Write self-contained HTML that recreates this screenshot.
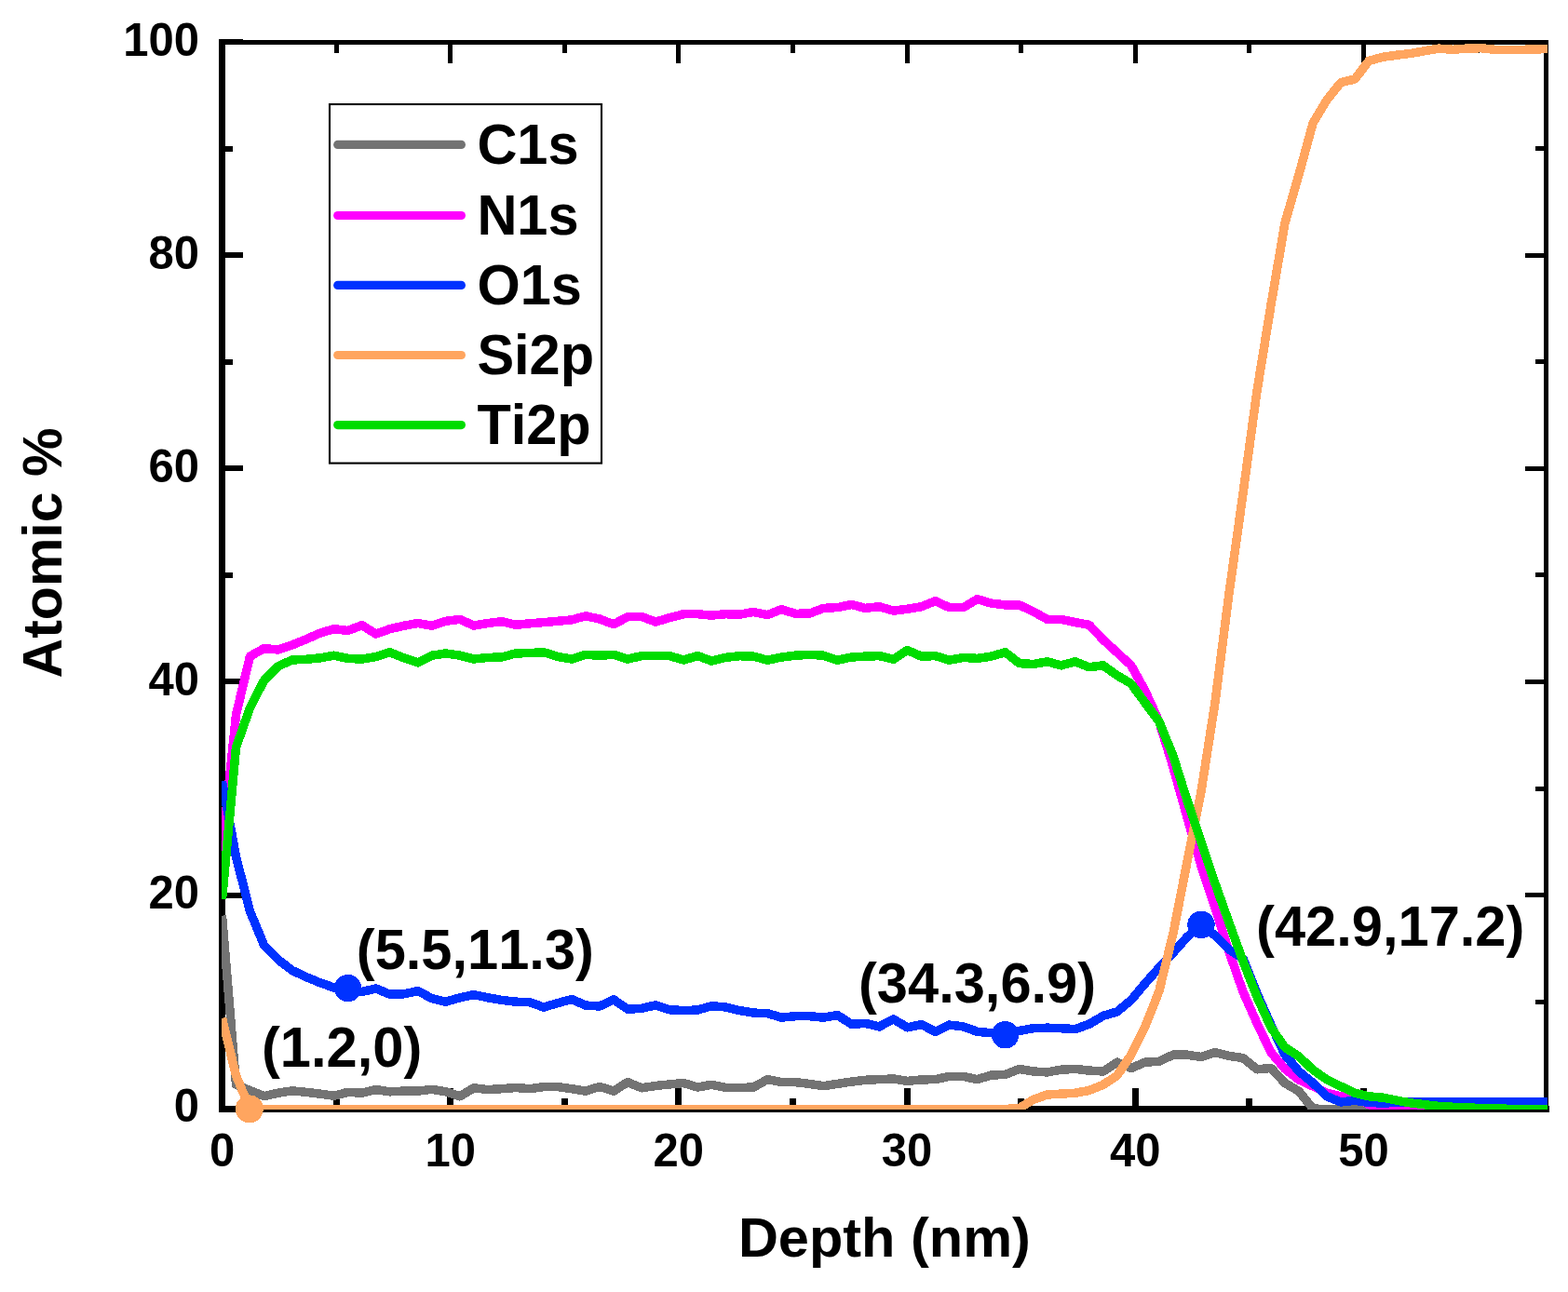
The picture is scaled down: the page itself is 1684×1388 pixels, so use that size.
<!DOCTYPE html>
<html lang="en"><head><meta charset="utf-8"><title>XPS depth profile</title>
<style>html,body{margin:0;padding:0;background:#fff}svg{display:block}text{font-family:"Liberation Sans",Arial,Helvetica,sans-serif;font-weight:bold;fill:#000;font-kerning:none;font-variant-ligatures:none}.tk{font-size:49px}.ti{font-size:59.5px}.lg{font-size:59.5px}.an{font-size:59.6px}</style></head><body>
<svg width="1684" height="1388" viewBox="0 0 1684 1388">
<rect width="1684" height="1388" fill="#fff"/>
<defs><clipPath id="plot"><rect x="238" y="43" width="1424" height="1149.1"/></clipPath></defs>
<g fill="#000" shape-rendering="crispEdges">
<rect x="235" y="43" width="7" height="1152"/>
<rect x="235" y="1188" width="1429" height="7"/>
<rect x="235" y="43" width="1428" height="5"/>
<rect x="1658" y="43" width="5" height="1152"/>
<rect x="235" y="1169" width="7" height="20"/>
<rect x="236" y="47" width="5" height="21"/>
<rect x="358" y="1180" width="7" height="9"/>
<rect x="359" y="47" width="5" height="10"/>
<rect x="480" y="1169" width="7" height="20"/>
<rect x="481" y="47" width="5" height="21"/>
<rect x="603" y="1180" width="7" height="9"/>
<rect x="604" y="47" width="5" height="10"/>
<rect x="725" y="1169" width="7" height="20"/>
<rect x="726" y="47" width="5" height="21"/>
<rect x="848" y="1180" width="7" height="9"/>
<rect x="849" y="47" width="5" height="10"/>
<rect x="971" y="1169" width="7" height="20"/>
<rect x="972" y="47" width="5" height="21"/>
<rect x="1093" y="1180" width="7" height="9"/>
<rect x="1094" y="47" width="5" height="10"/>
<rect x="1216" y="1169" width="7" height="20"/>
<rect x="1217" y="47" width="5" height="21"/>
<rect x="1338" y="1180" width="7" height="9"/>
<rect x="1339" y="47" width="5" height="10"/>
<rect x="1461" y="1169" width="7" height="20"/>
<rect x="1462" y="47" width="5" height="21"/>
<rect x="1583" y="1180" width="7" height="9"/>
<rect x="1584" y="47" width="5" height="10"/>
<rect x="241" y="1188" width="20" height="6"/>
<rect x="241" y="1073" width="9" height="6"/>
<rect x="1649" y="1074" width="10" height="5"/>
<rect x="241" y="959" width="20" height="6"/>
<rect x="1638" y="959" width="21" height="5"/>
<rect x="241" y="844" width="9" height="6"/>
<rect x="1649" y="845" width="10" height="5"/>
<rect x="241" y="729" width="20" height="6"/>
<rect x="1638" y="730" width="21" height="5"/>
<rect x="241" y="615" width="9" height="6"/>
<rect x="1649" y="615" width="10" height="5"/>
<rect x="241" y="500" width="20" height="6"/>
<rect x="1638" y="501" width="21" height="5"/>
<rect x="241" y="386" width="9" height="6"/>
<rect x="1649" y="386" width="10" height="5"/>
<rect x="241" y="271" width="20" height="6"/>
<rect x="1638" y="272" width="21" height="5"/>
<rect x="241" y="157" width="9" height="6"/>
<rect x="1649" y="157" width="10" height="5"/>
<rect x="235" y="42" width="26" height="6"/>
</g>
<g fill="none" stroke-width="9.5" stroke-linejoin="round" stroke-linecap="butt" clip-path="url(#plot)" shape-rendering="crispEdges">
<path stroke="#737373" d="M238.5 983.6L253.5 1165.0L268.5 1171.6L283.6 1177.6L298.6 1174.2L313.6 1171.9L328.6 1173.3L343.6 1175.1L358.7 1177.2L373.7 1173.3L388.7 1174.2L403.7 1170.6L418.7 1172.8L433.8 1172.1L448.8 1172.1L463.8 1170.3L478.8 1172.8L493.8 1177.8L508.9 1168.8L523.9 1170.6L538.9 1169.7L553.9 1168.5L568.9 1169.7L584.0 1167.6L599.0 1167.6L614.0 1169.7L629.0 1172.1L644.0 1167.4L659.1 1172.1L674.1 1162.6L689.1 1168.8L704.1 1166.5L719.1 1164.9L734.2 1163.5L749.2 1168.0L764.2 1165.3L779.2 1168.3L794.2 1168.5L809.3 1168.0L824.3 1159.6L839.3 1162.6L854.3 1162.6L869.3 1164.4L884.4 1166.7L899.4 1164.4L914.4 1162.1L929.4 1160.3L944.4 1159.6L959.5 1159.0L974.5 1161.4L989.5 1159.9L1004.5 1159.6L1019.5 1156.4L1034.6 1156.4L1049.6 1159.6L1064.6 1155.0L1079.6 1154.5L1094.6 1148.4L1109.7 1151.0L1124.7 1151.9L1139.7 1149.2L1154.7 1148.4L1169.7 1150.1L1184.8 1151.0L1199.8 1141.2L1214.8 1147.5L1229.8 1141.2L1244.8 1140.3L1259.9 1133.2L1274.9 1133.2L1289.9 1135.5L1304.9 1130.5L1319.9 1134.4L1335.0 1136.6L1350.0 1148.8L1365.0 1147.5L1380.0 1163.5L1395.0 1172.4L1410.1 1191.1L1425.1 1191.5L1440.1 1191.5L1455.1 1191.5L1470.1 1191.5L1485.2 1191.5L1500.2 1191.5L1515.2 1191.5L1530.2 1191.5L1545.2 1191.5L1560.3 1191.5L1575.3 1191.5L1590.3 1191.5L1605.3 1191.5L1620.3 1191.5L1635.4 1191.5L1650.4 1191.5L1665.4 1191.5"/>
<path stroke="#ff00ff" d="M238.5 914.0L253.5 768.0L268.5 705.0L283.6 696.6L298.6 698.0L313.6 693.0L328.6 686.8L343.6 680.2L358.7 675.7L373.7 677.5L388.7 671.6L403.7 681.1L418.7 675.7L433.8 672.2L448.8 669.5L463.8 672.2L478.8 667.3L493.8 665.4L508.9 672.0L523.9 669.5L538.9 667.7L553.9 671.3L568.9 669.8L584.0 668.6L599.0 667.3L614.0 665.9L629.0 661.8L644.0 665.0L659.1 670.7L674.1 662.7L689.1 662.4L704.1 668.1L719.1 663.6L734.2 659.7L749.2 659.7L764.2 661.1L779.2 659.7L794.2 660.1L809.3 657.5L824.3 660.6L839.3 654.7L854.3 659.3L869.3 659.1L884.4 653.4L899.4 652.6L914.4 649.5L929.4 653.4L944.4 651.7L959.5 656.1L974.5 654.3L989.5 651.7L1004.5 645.8L1019.5 652.6L1034.6 652.6L1049.6 643.6L1064.6 648.1L1079.6 649.9L1094.6 649.9L1109.7 657.0L1124.7 665.4L1139.7 665.4L1154.7 668.6L1169.7 671.3L1184.8 687.3L1199.8 701.0L1214.8 714.9L1229.8 742.0L1244.8 775.0L1259.9 824.0L1274.9 877.9L1289.9 930.0L1304.9 975.0L1319.9 1022.2L1335.0 1065.5L1350.0 1099.4L1365.0 1130.5L1380.0 1148.4L1395.0 1160.0L1410.1 1167.0L1425.1 1174.2L1440.1 1177.8L1455.1 1176.0L1470.1 1186.7L1485.2 1189.3L1500.2 1190.2L1515.2 1191.1L1530.2 1191.5L1545.2 1191.5L1560.3 1191.5L1575.3 1191.5L1590.3 1191.5L1605.3 1191.5L1620.3 1191.5L1635.4 1191.5L1650.4 1191.5L1665.4 1191.5"/>
<path stroke="#0032ff" d="M238.5 839.5L253.5 920.5L268.5 979.0L283.6 1015.6L298.6 1030.8L313.6 1042.4L328.6 1049.5L343.6 1055.7L358.7 1061.0L373.7 1061.6L388.7 1065.5L403.7 1062.0L418.7 1068.2L433.8 1067.8L448.8 1064.6L463.8 1072.6L478.8 1076.2L493.8 1071.8L508.9 1068.6L523.9 1071.8L538.9 1074.4L553.9 1076.2L568.9 1076.7L584.0 1082.1L599.0 1077.6L614.0 1073.5L629.0 1080.1L644.0 1081.0L659.1 1073.9L674.1 1084.2L689.1 1083.3L704.1 1079.8L719.1 1084.8L734.2 1085.5L749.2 1085.1L764.2 1080.7L779.2 1081.9L794.2 1085.6L809.3 1088.1L824.3 1088.7L839.3 1093.1L854.3 1091.7L869.3 1091.7L884.4 1093.1L899.4 1090.5L914.4 1100.3L929.4 1099.4L944.4 1102.9L959.5 1094.9L974.5 1103.8L989.5 1100.6L1004.5 1108.3L1019.5 1101.1L1034.6 1102.9L1049.6 1108.3L1064.6 1109.7L1079.6 1111.8L1094.6 1107.4L1109.7 1104.7L1124.7 1104.2L1139.7 1104.7L1154.7 1105.6L1169.7 1100.3L1184.8 1091.3L1199.8 1086.9L1214.8 1074.4L1229.8 1056.6L1244.8 1039.7L1259.9 1023.6L1274.9 1006.7L1289.9 993.4L1304.9 1005.0L1319.9 1020.0L1335.0 1029.9L1350.0 1067.3L1365.0 1101.1L1380.0 1133.2L1395.0 1151.0L1410.1 1163.5L1425.1 1177.8L1440.1 1184.0L1455.1 1182.2L1470.1 1184.5L1485.2 1185.0L1500.2 1184.5L1515.2 1184.0L1530.2 1184.0L1545.2 1183.5L1560.3 1183.3L1575.3 1183.3L1590.3 1183.3L1605.3 1183.3L1620.3 1183.3L1635.4 1183.3L1650.4 1183.3L1665.4 1183.3"/>
<path stroke="#ffa55f" d="M238.5 1094.0L253.5 1155.5L268.5 1191.5L283.6 1191.5L298.6 1191.5L313.6 1191.5L328.6 1191.5L343.6 1191.5L358.7 1191.5L373.7 1191.5L388.7 1191.5L403.7 1191.5L418.7 1191.5L433.8 1191.5L448.8 1191.5L463.8 1191.5L478.8 1191.5L493.8 1191.5L508.9 1191.5L523.9 1191.5L538.9 1191.5L553.9 1191.5L568.9 1191.5L584.0 1191.5L599.0 1191.5L614.0 1191.5L629.0 1191.5L644.0 1191.5L659.1 1191.5L674.1 1191.5L689.1 1191.5L704.1 1191.5L719.1 1191.5L734.2 1191.5L749.2 1191.5L764.2 1191.5L779.2 1191.5L794.2 1191.5L809.3 1191.5L824.3 1191.5L839.3 1191.5L854.3 1191.5L869.3 1191.5L884.4 1191.5L899.4 1191.5L914.4 1191.5L929.4 1191.5L944.4 1191.5L959.5 1191.5L974.5 1191.5L989.5 1191.5L1004.5 1191.5L1019.5 1191.5L1034.6 1191.5L1049.6 1191.5L1064.6 1191.5L1079.6 1191.5L1094.6 1190.5L1109.7 1181.3L1124.7 1176.0L1139.7 1175.1L1154.7 1174.2L1169.7 1171.5L1184.8 1165.3L1199.8 1155.5L1214.8 1133.2L1229.8 1102.9L1244.8 1065.0L1259.9 1003.0L1274.9 926.3L1289.9 851.0L1304.9 755.0L1319.9 638.0L1335.0 530.0L1350.0 420.0L1365.0 327.5L1380.0 239.5L1395.0 187.5L1410.1 132.2L1425.1 107.3L1440.1 88.6L1455.1 85.0L1470.1 65.4L1485.2 61.3L1500.2 59.2L1515.2 57.4L1530.2 54.7L1545.2 52.1L1560.3 53.3L1575.3 52.1L1590.3 51.7L1605.3 53.3L1620.3 53.3L1635.4 53.3L1650.4 53.0L1665.4 52.1"/>
<path stroke="#00dc00" d="M238.5 966.0L253.5 803.0L268.5 760.3L283.6 731.0L298.6 715.8L313.6 709.0L328.6 708.3L343.6 706.9L358.7 704.2L373.7 707.4L388.7 708.1L403.7 705.5L418.7 700.7L433.8 706.9L448.8 711.9L463.8 704.2L478.8 701.9L493.8 704.2L508.9 708.0L523.9 706.4L538.9 706.0L553.9 701.9L568.9 701.6L584.0 700.7L599.0 705.5L614.0 708.1L629.0 703.3L644.0 704.2L659.1 703.3L674.1 708.1L689.1 704.6L704.1 704.6L719.1 704.6L734.2 709.0L749.2 704.6L764.2 710.1L779.2 706.4L794.2 704.7L809.3 705.1L824.3 709.2L839.3 706.0L854.3 704.2L869.3 703.3L884.4 704.2L899.4 709.2L914.4 706.0L929.4 705.1L944.4 704.6L959.5 708.3L974.5 698.5L989.5 705.1L1004.5 704.6L1019.5 709.2L1034.6 706.4L1049.6 707.4L1064.6 705.1L1079.6 700.7L1094.6 712.6L1109.7 713.5L1124.7 710.8L1139.7 714.9L1154.7 710.8L1169.7 716.7L1184.8 714.9L1199.8 725.6L1214.8 734.5L1229.8 755.0L1244.8 775.0L1259.9 812.0L1274.9 859.7L1289.9 904.4L1304.9 948.8L1319.9 991.0L1335.0 1032.6L1350.0 1070.9L1365.0 1103.8L1380.0 1125.2L1395.0 1135.0L1410.1 1149.3L1425.1 1159.9L1440.1 1167.1L1455.1 1174.2L1470.1 1177.8L1485.2 1179.2L1500.2 1182.2L1515.2 1184.9L1530.2 1186.7L1545.2 1188.4L1560.3 1189.3L1575.3 1189.9L1590.3 1190.5L1605.3 1191.0L1620.3 1191.3L1635.4 1191.3L1650.4 1191.3L1665.4 1191.3"/>
</g>
<g shape-rendering="crispEdges">
<circle cx="267.8" cy="1191.4" r="15" fill="#ffa55f"/>
<circle cx="373.6" cy="1061.6" r="14.7" fill="#0032ff"/>
<circle cx="1079.6" cy="1111.8" r="14.7" fill="#0032ff"/>
<circle cx="1290" cy="993.4" r="14.7" fill="#0032ff"/>
</g>
<text class="tk" transform="translate(238.5 1252.6) scale(1 1.03)" text-anchor="middle">0</text>
<text class="tk" transform="translate(483.7 1252.6) scale(1 1.03)" text-anchor="middle">10</text>
<text class="tk" transform="translate(728.8 1252.6) scale(1 1.03)" text-anchor="middle">20</text>
<text class="tk" transform="translate(974.0 1252.6) scale(1 1.03)" text-anchor="middle">30</text>
<text class="tk" transform="translate(1219.2 1252.6) scale(1 1.03)" text-anchor="middle">40</text>
<text class="tk" transform="translate(1464.4 1252.6) scale(1 1.03)" text-anchor="middle">50</text>
<text class="tk" transform="translate(214 1205.4) scale(1 1.03)" text-anchor="end">0</text>
<text class="tk" transform="translate(214 976.2) scale(1 1.03)" text-anchor="end">20</text>
<text class="tk" transform="translate(214 747.1) scale(1 1.03)" text-anchor="end">40</text>
<text class="tk" transform="translate(214 517.9) scale(1 1.03)" text-anchor="end">60</text>
<text class="tk" transform="translate(214 288.8) scale(1 1.03)" text-anchor="end">80</text>
<text class="tk" transform="translate(214 59.6) scale(1 1.03)" text-anchor="end">100</text>
<text class="ti" x="792.9" y="1349.9">Depth (nm)</text>
<text class="ti" style="font-size:59px" transform="translate(66 728.4) rotate(-90)">Atomic %</text>
<rect x="354" y="112" width="292" height="385.6" fill="#fff" stroke="#000" stroke-width="2.1"/>
<path d="M362.7 155.4H495.4" stroke="#737373" stroke-width="9.2" stroke-linecap="round" fill="none"/>
<text class="lg" transform="translate(512.4 176.0) scale(1 1.04)">C1s</text>
<path d="M362.7 231.5H495.4" stroke="#ff00ff" stroke-width="9.2" stroke-linecap="round" fill="none"/>
<text class="lg" transform="translate(512.4 252.1) scale(1 1.04)">N1s</text>
<path d="M362.7 306.4H495.4" stroke="#0032ff" stroke-width="9.2" stroke-linecap="round" fill="none"/>
<text class="lg" transform="translate(512.4 327.1) scale(1 1.04)">O1s</text>
<path d="M362.7 381.5H495.4" stroke="#ffa55f" stroke-width="9.2" stroke-linecap="round" fill="none"/>
<text class="lg" transform="translate(512.4 402.2) scale(1 1.04)">Si2p</text>
<path d="M362.7 456.6H495.4" stroke="#00dc00" stroke-width="9.2" stroke-linecap="round" fill="none"/>
<text class="lg" transform="translate(512.4 477.1) scale(1 1.04)">Ti2p</text>
<text class="an" transform="translate(281 1145.9) scale(1 1.03)">(1.2,0)</text>
<text class="an" transform="translate(382.8 1041.2) scale(1 1.03)">(5.5,11.3)</text>
<text class="an" transform="translate(922 1077.4) scale(1 1.03)">(34.3,6.9)</text>
<text class="an" transform="translate(1349.1 1016.1) scale(1 1.03)">(42.9,17.2)</text>
</svg></body></html>
